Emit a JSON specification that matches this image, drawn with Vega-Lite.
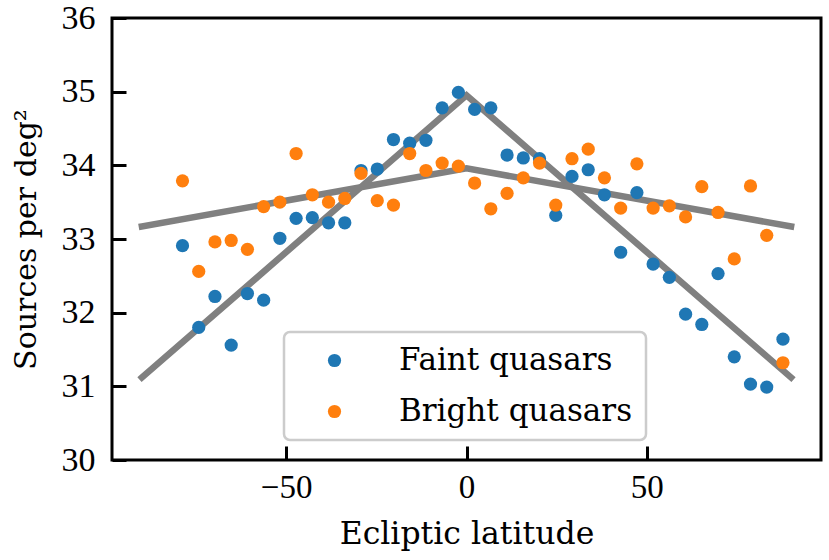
{
  "$schema": "https://vega.github.io/schema/vega-lite/v6.json",
  "width": 709,
  "height": 442,
  "autosize": {"type": "none"},
  "padding": {"left": 112, "top": 18, "right": 8, "bottom": 100},
  "background": "white",
  "config": {
    "view": {"stroke": "black", "strokeWidth": 3},
    "font": "DejaVu Serif",
    "legend": {"strokeWidth": 2.5}
  },
  "datasets": {
    "lines": [
      {"lat": -90, "density": 31.12, "fit": "faint"},
      {"lat": 0, "density": 34.95, "fit": "faint"},
      {"lat": 90, "density": 31.12, "fit": "faint"},
      {"lat": -90, "density": 33.17, "fit": "bright"},
      {"lat": 0, "density": 33.96, "fit": "bright"},
      {"lat": 90, "density": 33.17, "fit": "bright"}
    ],
    "points": [
      {"lat": -78.75, "density": 32.91, "sample": "Faint quasars"},
      {"lat": -74.25, "density": 31.80, "sample": "Faint quasars"},
      {"lat": -69.75, "density": 32.22, "sample": "Faint quasars"},
      {"lat": -65.25, "density": 31.56, "sample": "Faint quasars"},
      {"lat": -60.75, "density": 32.26, "sample": "Faint quasars"},
      {"lat": -56.25, "density": 32.17, "sample": "Faint quasars"},
      {"lat": -51.75, "density": 33.01, "sample": "Faint quasars"},
      {"lat": -47.25, "density": 33.28, "sample": "Faint quasars"},
      {"lat": -42.75, "density": 33.29, "sample": "Faint quasars"},
      {"lat": -38.25, "density": 33.22, "sample": "Faint quasars"},
      {"lat": -33.75, "density": 33.22, "sample": "Faint quasars"},
      {"lat": -29.25, "density": 33.93, "sample": "Faint quasars"},
      {"lat": -24.75, "density": 33.95, "sample": "Faint quasars"},
      {"lat": -20.25, "density": 34.35, "sample": "Faint quasars"},
      {"lat": -15.75, "density": 34.30, "sample": "Faint quasars"},
      {"lat": -11.25, "density": 34.34, "sample": "Faint quasars"},
      {"lat": -6.75, "density": 34.78, "sample": "Faint quasars"},
      {"lat": -2.25, "density": 34.99, "sample": "Faint quasars"},
      {"lat": 2.25, "density": 34.76, "sample": "Faint quasars"},
      {"lat": 6.75, "density": 34.78, "sample": "Faint quasars"},
      {"lat": 11.25, "density": 34.14, "sample": "Faint quasars"},
      {"lat": 15.75, "density": 34.10, "sample": "Faint quasars"},
      {"lat": 20.25, "density": 34.09, "sample": "Faint quasars"},
      {"lat": 24.75, "density": 33.32, "sample": "Faint quasars"},
      {"lat": 29.25, "density": 33.85, "sample": "Faint quasars"},
      {"lat": 33.75, "density": 33.94, "sample": "Faint quasars"},
      {"lat": 38.25, "density": 33.60, "sample": "Faint quasars"},
      {"lat": 42.75, "density": 32.82, "sample": "Faint quasars"},
      {"lat": 47.25, "density": 33.63, "sample": "Faint quasars"},
      {"lat": 51.75, "density": 32.66, "sample": "Faint quasars"},
      {"lat": 56.25, "density": 32.48, "sample": "Faint quasars"},
      {"lat": 60.75, "density": 31.98, "sample": "Faint quasars"},
      {"lat": 65.25, "density": 31.84, "sample": "Faint quasars"},
      {"lat": 69.75, "density": 32.53, "sample": "Faint quasars"},
      {"lat": 74.25, "density": 31.40, "sample": "Faint quasars"},
      {"lat": 78.75, "density": 31.03, "sample": "Faint quasars"},
      {"lat": 83.25, "density": 30.99, "sample": "Faint quasars"},
      {"lat": 87.75, "density": 31.64, "sample": "Faint quasars"},
      {"lat": -78.75, "density": 33.79, "sample": "Bright quasars"},
      {"lat": -74.25, "density": 32.56, "sample": "Bright quasars"},
      {"lat": -69.75, "density": 32.96, "sample": "Bright quasars"},
      {"lat": -65.25, "density": 32.98, "sample": "Bright quasars"},
      {"lat": -60.75, "density": 32.86, "sample": "Bright quasars"},
      {"lat": -56.25, "density": 33.44, "sample": "Bright quasars"},
      {"lat": -51.75, "density": 33.50, "sample": "Bright quasars"},
      {"lat": -47.25, "density": 34.16, "sample": "Bright quasars"},
      {"lat": -42.75, "density": 33.60, "sample": "Bright quasars"},
      {"lat": -38.25, "density": 33.50, "sample": "Bright quasars"},
      {"lat": -33.75, "density": 33.55, "sample": "Bright quasars"},
      {"lat": -29.25, "density": 33.89, "sample": "Bright quasars"},
      {"lat": -24.75, "density": 33.52, "sample": "Bright quasars"},
      {"lat": -20.25, "density": 33.46, "sample": "Bright quasars"},
      {"lat": -15.75, "density": 34.16, "sample": "Bright quasars"},
      {"lat": -11.25, "density": 33.93, "sample": "Bright quasars"},
      {"lat": -6.75, "density": 34.03, "sample": "Bright quasars"},
      {"lat": -2.25, "density": 33.99, "sample": "Bright quasars"},
      {"lat": 2.25, "density": 33.76, "sample": "Bright quasars"},
      {"lat": 6.75, "density": 33.41, "sample": "Bright quasars"},
      {"lat": 11.25, "density": 33.62, "sample": "Bright quasars"},
      {"lat": 15.75, "density": 33.83, "sample": "Bright quasars"},
      {"lat": 20.25, "density": 34.03, "sample": "Bright quasars"},
      {"lat": 24.75, "density": 33.46, "sample": "Bright quasars"},
      {"lat": 29.25, "density": 34.09, "sample": "Bright quasars"},
      {"lat": 33.75, "density": 34.22, "sample": "Bright quasars"},
      {"lat": 38.25, "density": 33.83, "sample": "Bright quasars"},
      {"lat": 42.75, "density": 33.42, "sample": "Bright quasars"},
      {"lat": 47.25, "density": 34.02, "sample": "Bright quasars"},
      {"lat": 51.75, "density": 33.42, "sample": "Bright quasars"},
      {"lat": 56.25, "density": 33.45, "sample": "Bright quasars"},
      {"lat": 60.75, "density": 33.30, "sample": "Bright quasars"},
      {"lat": 65.25, "density": 33.71, "sample": "Bright quasars"},
      {"lat": 69.75, "density": 33.36, "sample": "Bright quasars"},
      {"lat": 74.25, "density": 32.73, "sample": "Bright quasars"},
      {"lat": 78.75, "density": 33.72, "sample": "Bright quasars"},
      {"lat": 83.25, "density": 33.05, "sample": "Bright quasars"},
      {"lat": 87.75, "density": 31.32, "sample": "Bright quasars"}
    ]
  },
  "encoding": {
    "x": {
      "field": "lat",
      "type": "quantitative",
      "scale": {"domain": [-98.3, 98.3], "nice": false, "zero": false},
      "axis": {
        "values": [-50, 0, 50],
        "domain": false,
        "grid": false,
        "tickSize": -14,
        "tickWidth": 3,
        "tickColor": "black",
        "labelFont": "Liberation Serif",
        "labelFontSize": 33,
        "labelColor": "black",
        "labelPadding": 25,
        "labelFlush": false,
        "title": "Ecliptic latitude",
        "titleFont": "DejaVu Serif",
        "titleFontSize": 31.5,
        "titleFontWeight": "normal",
        "titleColor": "black",
        "titleY": 83,
        "titleBaseline": "alphabetic"
      }
    },
    "y": {
      "field": "density",
      "type": "quantitative",
      "scale": {"domain": [30, 36], "nice": false, "zero": false},
      "axis": {
        "values": [30, 31, 32, 33, 34, 35, 36],
        "domain": false,
        "grid": false,
        "tickSize": -14,
        "tickWidth": 3,
        "tickColor": "black",
        "labelFont": "Liberation Serif",
        "labelFontSize": 34,
        "labelColor": "black",
        "labelPadding": 31,
        "labelFlush": false,
        "title": "Sources per deg²",
        "titleFont": "DejaVu Serif",
        "titleFontSize": 30,
        "titleFontWeight": "normal",
        "titleColor": "black",
        "titleX": -77,
        "titleY": 221,
        "titleAngle": -90,
        "titleAlign": "center",
        "titleBaseline": "alphabetic"
      }
    }
  },
  "layer": [
    {
      "data": {"name": "lines"},
      "mark": {"type": "line", "color": "#808080", "strokeWidth": 6.5, "strokeCap": "square", "clip": false},
      "encoding": {
        "detail": {"field": "fit", "type": "nominal"}
      }
    },
    {
      "data": {"name": "points"},
      "mark": {"type": "circle", "size": 175, "opacity": 1},
      "encoding": {
        "color": {
          "field": "sample",
          "type": "nominal",
          "scale": {"domain": ["Faint quasars", "Bright quasars"], "range": ["#1f77b4", "#ff7f0e"]},
          "legend": {
            "title": null,
            "orient": "none",
            "legendX": 172,
            "legendY": 314,
            "padding": 13,
            "symbolType": "circle",
            "symbolSize": 175,
            "symbolOffset": 22,
            "symbolStrokeWidth": 0,
            "labelOffset": 49,
            "labelLimit": 500,
            "labelFont": "DejaVu Serif",
            "labelFontSize": 31,
            "labelColor": "black",
            "rowPadding": 19,
            "fillColor": "white",
            "strokeColor": "#cccccc",
            "cornerRadius": 6
          }
        }
      }
    }
  ]
}
